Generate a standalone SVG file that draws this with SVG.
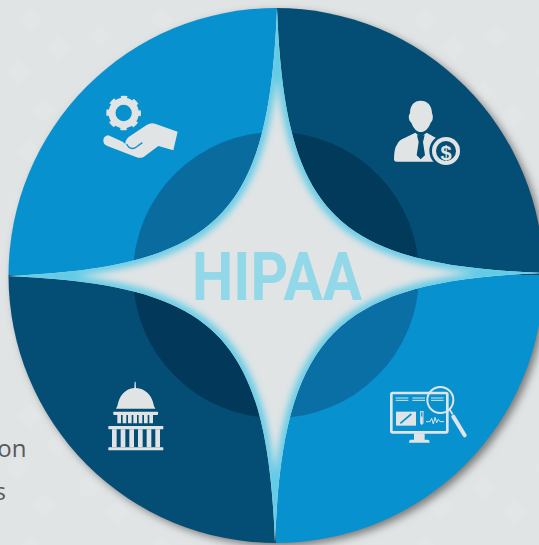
<svg xmlns="http://www.w3.org/2000/svg" width="539" height="545" viewBox="0 0 539 545">
<style>
.ic{fill:#e0e4e5;stroke:none}
.ln{fill:none;stroke:#e0e4e5}
.light{fill:#0792cf}.dark{fill:#044e76}
.lab{font-family:"Open Sans","Noto Sans",sans-serif;font-size:24px;fill:#58595b;text-anchor:end}
</style>
<defs>
<pattern id="bgp" width="132" height="132" patternUnits="userSpaceOnUse">
<g fill="#e3e6e7">
<path d="M30 8l12 12-12 12-12-12z"/><path d="M58 36l12 12-12 12-12-12z"/><path d="M18 60l12 12-12 12-12-12z"/><path d="M100 24l12 12-12 12-12-12z"/><path d="M88 80l12 12-12 12-12-12z"/><path d="M44 98l12 12-12 12-12-12z"/><path d="M118 104l12 12-12 12-12-12z"/>
</g>
</pattern>
<clipPath id="disc"><circle cx="276" cy="275.500" r="267.500"/></clipPath>
<clipPath id="starClip"><path id="starShape" d="M277 8C285 215 335 265 544 273C335 281 283 335 275 543C267 335 217 285 8 276C219 267 269 215 277 8Z"/></clipPath>
<filter id="shadow" x="-10%" y="-10%" width="120%" height="120%"><feGaussianBlur stdDeviation="4"/></filter>
<filter id="glow" x="-10%" y="-10%" width="120%" height="120%"><feGaussianBlur stdDeviation="3.500"/></filter>
</defs>
<rect width="539" height="545" fill="#e0e4e5"/>
<rect width="539" height="545" fill="url(#bgp)"/>
<text class="lab" x="26.500" y="457">on</text>
<text class="lab" x="6" y="500">s</text>
<circle cx="280" cy="279" r="267" fill="#777" filter="url(#shadow)"/>
<g clip-path="url(#disc)">
<g id="quadrant-top-left">
<path class="light" d="M277 275V0H0V275Z"/>
<path d="M277 275V132A143 143 0 0 0 133 275Z" fill="#0a6b9f"/>
</g>
<g id="quadrant-top-right">
<path class="dark" d="M277 275V0H545V275Z"/>
<path d="M277 275V132A143 143 0 0 1 419 275Z" fill="#023a5c"/>
</g>
<g id="quadrant-bottom-right">
<path class="light" d="M276 275V545H545V275Z"/>
<path d="M276 275V418A143 143 0 0 0 419 275Z" fill="#0a6fa5"/>
</g>
<g id="quadrant-bottom-left">
<path class="dark" d="M276 275V545H0V275Z"/>
<path d="M276 275V418A143 143 0 0 1 133 275Z" fill="#02395b"/>
</g>
<g id="star">
<use href="#starShape" fill="#e0e4e5"/>
<g clip-path="url(#starClip)">
<use href="#starShape" fill="none" stroke="#62cbe6" stroke-width="10" filter="url(#glow)"/>
</g>
</g>
</g>
<g id="title"><text x="192" y="300" textLength="170" lengthAdjust="spacingAndGlyphs" font-family="Roboto,'Liberation Sans',sans-serif" font-weight="700" font-size="67" fill="#93d8e8">HIPAA</text></g>
<g id="icon-hand" transform="translate(80 80) scale(.3333)">
<circle cx="131" cy="99" r="35" fill="none" stroke="#e0e4e5" stroke-width="21"/>
<circle cx="131" cy="99" r="45" fill="none" stroke="#e0e4e5" stroke-width="14" stroke-dasharray="18 17.300" stroke-dashoffset="9"/>
<path class="ic" d="M85 166Q70 168 70 182Q70 193 82 198L170 232Q182 236 192 230L235 198L280 211L293 155L225 131Q213 127 200 135L147 170Q135 180 136 192L128 185Z"/>
<path d="M140 192Q148 210 165 204L187 188" fill="none" stroke="#0792cf" stroke-width="4"/>
</g>
<g id="icon-person" transform="translate(370 80) scale(.3333)">
<path class="ic" d="M152 62C132 62 120 76 120 100C114 108 116 122 124 128C130 146 142 156 152 156C164 156 176 146 182 128C190 122 190 108 186 100C186 76 172 62 152 62Z"/>
<path class="ic" d="M72 238Q72 205 82 192Q88 180 102 175L136 158L152 172L170 158L205 178L215 245L80 245Q72 245 72 238Z"/>
<path d="M141 166H164L159 186L165 226L152 238L140 226L146 186Z" fill="#044e76"/>
<circle cx="228" cy="213" r="50" fill="#044e76"/>
<circle cx="228" cy="213" r="42" fill="#e0e4e5"/>
<circle cx="228" cy="213" r="30" fill="#044e76"/>
</g>
<text id="icon-dollar" x="446" y="159.500" text-anchor="middle" font-family="'Liberation Sans',sans-serif" font-weight="700" font-size="20" fill="#e0e4e5">$</text>
<g id="icon-monitor" transform="translate(370 370) scale(.3333)">
<rect class="ln" x="64" y="69" width="168" height="118" rx="4" stroke-width="8"/>
<path class="ic" d="M132 190H164V209H175Q179 210 179 218H117Q117 210 121 209H132Z"/>
<g class="ln" stroke-width="3"><path d="M77 84H115M77 91H115M127 84H165M127 91H165M183 84H221M183 91H221"/></g>
<path class="ic" d="M78 125H138V167H78Z"/>
<path d="M91 160L124 132" stroke="#0792cf" stroke-width="5" fill="none"/>
<path d="M150 125H161M152 125V160Q155 168 159 160V125" fill="none" stroke="#e0e4e5" stroke-width="3"/>
<path class="ic" d="M153 140H158V162H153Z"/>
<path class="ln" stroke-width="3" d="M168 155H180L185 145L190 162L195 142L200 158L205 148L210 155H222"/>
<circle class="ln" cx="211" cy="90" r="39" stroke-width="6"/>
<path class="ln" stroke-width="5" d="M238 118L248 133"/>
<path class="ln" stroke-width="12" stroke-linecap="round" d="M250 140L284 196"/>
</g>
<g id="icon-capitol" transform="translate(90 370) scale(.3333)">
<path class="ic" d="M134 35H137L138 54Q182 58 192 108L196 116H78L82 108Q92 58 133 54Z"/>
<rect class="ic" x="70" y="125" width="134" height="10" rx="2"/>
<path class="ic" d="M82 135h11v25H82zM98 135h11v25H98zM114 135h11v25h-11zM130 135h11v25h-11zM146 135h11v25h-11zM162 135h11v25h-11zM178 135h11v25h-11z"/>
<rect class="ic" x="55" y="168" width="165" height="10" rx="2"/>
<path class="ic" d="M66 178h14v54H66zM92 178h14v54H92zM118 178h14v54h-14zM144 178h14v54h-14zM170 178h14v54h-14zM196 178h14v54h-14z"/>
<rect class="ic" x="55" y="232" width="165" height="9" rx="2"/>
</g>
</svg>
